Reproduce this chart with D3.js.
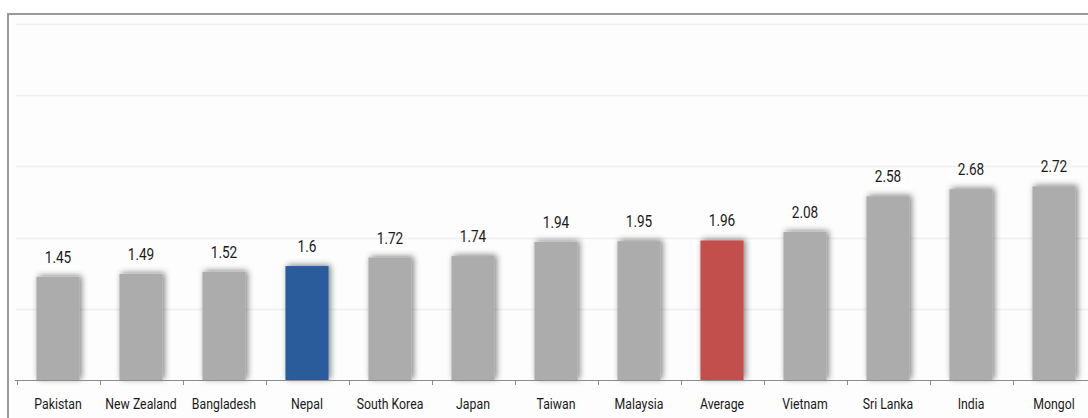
<!DOCTYPE html>
<html>
<head>
<meta charset="utf-8">
<script src="https://cdn.jsdelivr.net/npm/d3@7"></script>
<style>
  html, body { margin: 0; padding: 0; background: #ffffff; }
  svg { display: block; }
</style>
</head>
<body>
<svg id="chart" width="1088" height="418"></svg>
<script>
// Country values, sorted ascending, with the regional average included
const categories = ["Pakistan", "New Zealand", "Bangladesh", "Nepal", "South Korea", "Japan",
  "Taiwan", "Malaysia", "Average", "Vietnam", "Sri Lanka", "India", "Mongol"];
const values = [1.45, 1.49, 1.52, 1.6, 1.72, 1.74, 1.94, 1.95, 1.96, 2.08, 2.58, 2.68, 2.72];
const yTicks = [0, 1, 2, 3, 4, 5];
const highlight = { "Nepal": "#2b5c9b", "Average": "#c3504e" };
const baseColor = "#acacac";

const svg = d3.select("#chart");
const W = 1088, H = 418;

// Frame around the plot (runs past the right edge)
svg.append("rect").attr("x", 0).attr("y", 0).attr("width", W).attr("height", H).attr("fill", "#ffffff");
svg.append("rect").attr("x", 8).attr("y", 14).attr("width", W + 20).attr("height", H + 20)
  .attr("fill", "#fdfdfd").attr("stroke", "#9a9a9a").attr("stroke-width", 2);

const x = d3.scaleBand().domain(categories).range([16.5, 16.5 + 83 * categories.length])
  .paddingInner(0.48).paddingOuter(0.24);
const y = d3.scaleLinear().domain([0, 5]).range([380, 24]);

// Horizontal gridlines
svg.append("g").selectAll("line").data(yTicks.filter(d => d > 0)).join("line")
  .attr("x1", 16).attr("x2", W).attr("y1", d => Math.round(y(d)) + 0.5).attr("y2", d => Math.round(y(d)) + 0.5)
  .attr("stroke", "#efefef").attr("stroke-width", 1.5);

// Soft shadow under each bar
const defs = svg.append("defs");
const f = defs.append("filter").attr("id", "shadow").attr("x", "-30%").attr("y", "-20%")
  .attr("width", "160%").attr("height", "140%");
f.append("feGaussianBlur").attr("in", "SourceAlpha").attr("stdDeviation", 3).attr("result", "b");
f.append("feOffset").attr("in", "b").attr("dx", 2).attr("dy", -1).attr("result", "o");
f.append("feComponentTransfer").attr("in", "o").attr("result", "s")
  .append("feFuncA").attr("type", "linear").attr("slope", 0.5);
const m = f.append("feMerge");
m.append("feMergeNode").attr("in", "s");
m.append("feMergeNode").attr("in", "SourceGraphic");

const data = categories.map((c, i) => ({ c, v: values[i] }));

svg.append("g").selectAll("rect").data(data).join("rect")
  .attr("x", d => x(d.c)).attr("width", x.bandwidth())
  .attr("y", d => y(d.v)).attr("height", d => y(0) - y(d.v))
  .attr("fill", d => highlight[d.c] || baseColor)
  .attr("filter", "url(#shadow)");

// Narrow lettering: Roboto squeezed horizontally
const font = "Roboto, 'DejaVu Sans', sans-serif";

// Value labels above the bars
svg.append("g").selectAll("text").data(data).join("text")
  .attr("transform", d => `translate(${x(d.c) + x.bandwidth() / 2},${y(d.v) - 14}) scale(0.8,1)`)
  .attr("text-anchor", "middle")
  .attr("font-family", font).attr("font-size", 17).attr("fill", "#1a1a1a")
  .text(d => d.v);

// Category axis
const gx = svg.append("g").attr("transform", "translate(0,380)");
gx.append("line").attr("x1", 15).attr("x2", W).attr("y1", 0.5).attr("y2", 0.5)
  .attr("stroke", "#8c8c8c").attr("stroke-width", 1);
gx.selectAll("line.sep").data(categories).join("line").attr("class", "sep")
  .attr("x1", d => Math.round(x(d) - x.step() * x.paddingInner() / 2) + 0.5)
  .attr("x2", d => Math.round(x(d) - x.step() * x.paddingInner() / 2) + 0.5)
  .attr("y1", 0).attr("y2", 5)
  .attr("stroke", "#8c8c8c").attr("stroke-width", 1);

svg.append("g").selectAll("text").data(categories).join("text")
  .attr("transform", d => `translate(${x(d) + x.bandwidth() / 2},409) scale(0.82,1)`)
  .attr("text-anchor", "middle")
  .attr("font-family", font).attr("font-size", 15).attr("fill", "#1a1a1a")
  .text(d => d);
</script>
</body>
</html>
